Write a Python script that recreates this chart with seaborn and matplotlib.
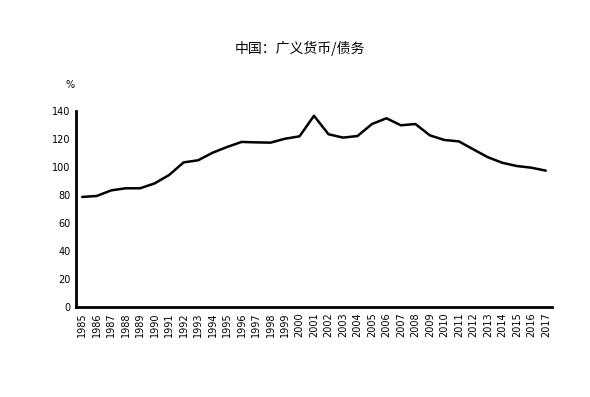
import matplotlib
matplotlib.use("Agg")
import matplotlib.pyplot as plt
import seaborn as sns
import pandas as pd

years = [str(y) for y in range(1985, 2018)]
ratio = [78.6, 79.3, 83.3, 84.8, 84.8, 88.3, 94.3, 103.3, 104.8, 110.2, 114.3,
         117.9, 117.6, 117.4, 120.2, 121.9, 136.6, 123.4, 121.0, 122.1, 130.7,
         134.8, 129.8, 130.7, 122.6, 119.3, 118.3, 112.6, 107.0, 103.0, 100.7,
         99.5, 97.4]
yticks = [0, 20, 40, 60, 80, 100, 120, 140]

sns.set_theme(style="white")
plt.rcParams['font.family'] = ['Noto Sans CJK SC', 'DejaVu Sans']
plt.rcParams['text.color'] = 'black'
plt.rcParams['xtick.color'] = 'black'
plt.rcParams['ytick.color'] = 'black'

df = pd.DataFrame({"year": years, "value": ratio})
df["pos"] = range(len(years))

fig = plt.figure(figsize=(5.9, 3.97), dpi=100)
ax = fig.add_axes([76/590, 1-307/397, (552-76)/590, (307-111)/397])
sns.lineplot(data=df, x="pos", y="value", ax=ax, color="black", linewidth=1.8)

ax.set_xlim(-0.43, len(years) - 1 + 0.43)
ax.set_ylim(0, 140)
ax.set_yticks(yticks)
ax.set_yticklabels([str(t) for t in yticks], fontsize=7, family=['DejaVu Sans'], color='black')
ax.set_xticks(range(len(years)))
ax.set_xticklabels(years, rotation=90, fontsize=7, family=['DejaVu Sans'], color='black')
ax.tick_params(axis='both', length=0, pad=4)
ax.set_xlabel("")
ax.set_ylabel("")
for s in ["top", "right"]:
    ax.spines[s].set_visible(False)
for s in ["left", "bottom"]:
    ax.spines[s].set_color("black")
    ax.spines[s].set_linewidth(2)

fig.text(300/590, 1-48/397, "中国：广义货币/债务", ha="center", va="center", fontsize=10, color='black')
fig.text(70/590, 1-85/397, "%", ha="center", va="center", fontsize=7, family=['DejaVu Sans'], color='black')

fig.savefig("out.png", dpi=100)
